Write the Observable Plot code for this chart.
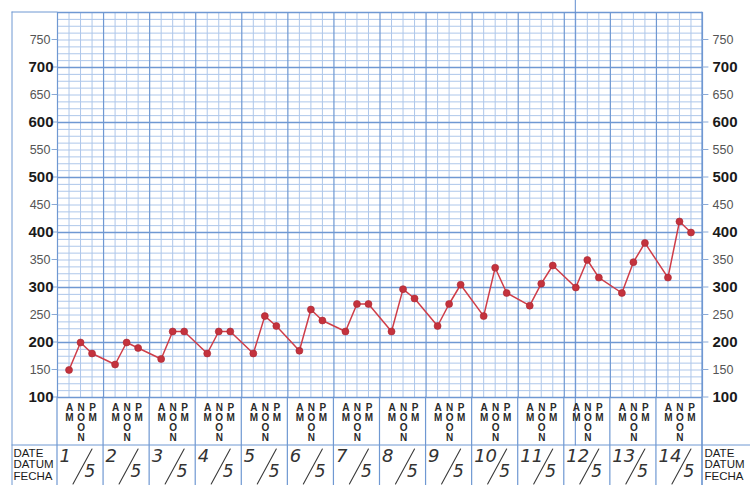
<!DOCTYPE html>
<html><head><meta charset="utf-8">
<script src="https://cdn.jsdelivr.net/npm/d3@7"></script>
<script src="https://cdn.jsdelivr.net/npm/@observablehq/plot@0.6"></script>
<style>body{margin:0;background:#fff} svg{display:block}</style>
</head><body><div id="chart"></div>
<script>
// ---- data ----
const dates = ["1/5","2/5","3/5","4/5","5/5","6/5","7/5","8/5","9/5","10/5","11/5","12/5","13/5","14/5"];
const am   = [150,160,170,180,180,185,220,220,230,248,267,300,290,318];
const noon = [200,200,220,220,248,260,270,297,270,336,307,350,346,420];
const pm   = [180,190,220,220,230,240,270,280,305,290,340,318,381,400];
const slotLetters = [["A","M"],["N","O","O","N"],["P","M"]]; // AM, NOON, PM
const yTicks = [100,150,200,250,300,350,400,450,500,550,600,650,700,750];
const rowLabels = ["DATE","DATUM","FECHA"];
const gridStep = 12.5;

// ---- derived tables ----
const readings = dates.flatMap((d, i) => [am[i], noon[i], pm[i]].map((v, j) => ({x: i + (j + 1) / 4, v})));
const letters = dates.flatMap((d, i) => slotLetters.flatMap((arr, j) => arr.map((t, r) => ({x: i + (j + 1) / 4, t, r, j}))));
const dateRows = dates.map((d, i) => ({i, num: d.split("/")[0], den: d.split("/")[1]}));
const hLines = d3.range(100, 800 + 0.01, gridStep);
const vLines = d3.range(0, dates.length + 0.001, 0.25);
const dayLines = d3.range(0, dates.length + 1);

const minor = "#aec7ea", major = "#6f98d2", ink = "#1a1a1a";
const font = "Liberation Sans, Arial, sans-serif";

function chrome(...args) {
  const dims = args.find(a => a && typeof a === "object" && "marginLeft" in a);
  const scales = args.find(a => a && typeof a === "object" && typeof a.x === "function");
  const {width, height, marginLeft: L, marginRight: R, marginTop: T, marginBottom: B} = dims;
  const x = scales.x, y = scales.y;
  const g = d3.create("svg:g").attr("fill", "none");
  const ln = (x1, y1, x2, y2, stroke, sw) => g.append("line")
    .attr("x1", x1).attr("y1", y1).attr("x2", x2).attr("y2", y2)
    .attr("stroke", stroke).attr("stroke-width", sw).attr("stroke-linecap", "round");
  const box = 12, sep = height - 40;
  ln(box, T, box, height, major, 1);           // outer left border
  ln(box, T, L, T, major, 1);                  // top of label column
  ln(box, sep, width, sep, major, 1);          // date row separator
  for (const d of dayLines) ln(x(d), height - B, x(d), height, major, 1.2);
  ln(width - R, T, width - R, height, major, 1.2);
  for (const v of yTicks) {
    ln(L - 5, y(v), L, y(v), "#8aa9d6", 1);
    ln(width - R, y(v), width - R + 6, y(v), "#8aa9d6", 1);
  }
  // scanner streak
  ln(x(11.25), 0, x(11.25), sep, "#5f8ccf", 1);
  // handwritten slashes of the dates
  for (const r of dateRows) {
    const x0 = x(r.i);
    ln(x0 + 16, height - 1, x0 + 35, sep + 4, "#3a3a3a", 1.1);
  }
  return g.node();
}

const letterMarks = [0, 1, 2, 3].map(r => Plot.text(letters.filter(l => l.r === r), {
  x: "x", text: "t", frameAnchor: "bottom", dy: 13 + r * 10, dx: 0.5,
  fontSize: 10, fontWeight: "bold", fill: "#2a2a2a", fontFamily: font
}));

const chart = Plot.plot({
  width: 750, height: 485,
  marginTop: 12, marginBottom: 88, marginLeft: 57, marginRight: 48,
  x: {domain: [0, dates.length], axis: null},
  y: {domain: [100, 800], axis: null},
  style: {background: "#fff", fontFamily: font, overflow: "visible"},
  marks: [
    Plot.ruleY(hLines.filter(v => v % 100 !== 0), {y: d => d, stroke: minor, strokeWidth: 1}),
    Plot.ruleX(vLines.filter(v => v % 1 !== 0), {x: d => d, stroke: minor, strokeWidth: 1}),
    Plot.ruleY(hLines.filter(v => v % 100 === 0), {y: d => d, stroke: major, strokeWidth: 1.3}),
    Plot.ruleX(dayLines, {x: d => d, stroke: major, strokeWidth: 1.2}),
    chrome,
    Plot.line(readings, {x: "x", y: "v", stroke: "#cf3d48", strokeWidth: 1.5}),
    Plot.dot(readings, {x: "x", y: "v", r: 3.5, fill: "#c4323d", stroke: "#a82630", strokeWidth: 0.6}),
    // left y labels
    Plot.text(yTicks.filter(v => v % 100 === 0), {y: d => d, text: d => String(d), frameAnchor: "left",
      textAnchor: "end", dx: -4, fontSize: 15, fontWeight: "bold", fill: ink}),
    Plot.text(yTicks.filter(v => v % 100 !== 0), {y: d => d, text: d => String(d), frameAnchor: "left",
      textAnchor: "end", dx: -7, fontSize: 12.5, fill: "#555"}),
    // right y labels
    Plot.text(yTicks.filter(v => v % 100 === 0), {y: d => d, text: d => String(d), frameAnchor: "right",
      textAnchor: "start", dx: 10, fontSize: 15, fontWeight: "bold", fill: ink}),
    Plot.text(yTicks.filter(v => v % 100 !== 0), {y: d => d, text: d => String(d), frameAnchor: "right",
      textAnchor: "start", dx: 10, fontSize: 12.5, fill: "#555"}),
    ...letterMarks,
    // DATE / DATUM / FECHA on both sides
    ...rowLabels.map((t, k) => Plot.text([t], {text: d => d, frameAnchor: "bottom-left", textAnchor: "start",
      dx: -44, dy: 59 + k * 11.5, fontSize: 11.5, fill: ink})),
    ...rowLabels.map((t, k) => Plot.text([t], {text: d => d, frameAnchor: "bottom-right", textAnchor: "start",
      dx: 2, dy: 59 + k * 11.5, fontSize: 11.5, fill: ink})),
    // handwritten dates
    Plot.text(dateRows, {x: "i", text: "num", frameAnchor: "bottom", textAnchor: "start", dx: 2, dy: 64,
      fontSize: 18, fontStyle: "italic", fill: "#333", fontFamily: "DejaVu Sans, sans-serif"}),
    Plot.text(dateRows, {x: "i", text: "den", frameAnchor: "bottom", textAnchor: "start", dx: 27, dy: 79,
      fontSize: 17, fontStyle: "italic", fill: "#333", fontFamily: "DejaVu Sans, sans-serif"})
  ]
});
document.getElementById("chart").appendChild(chart);
</script></body></html>
